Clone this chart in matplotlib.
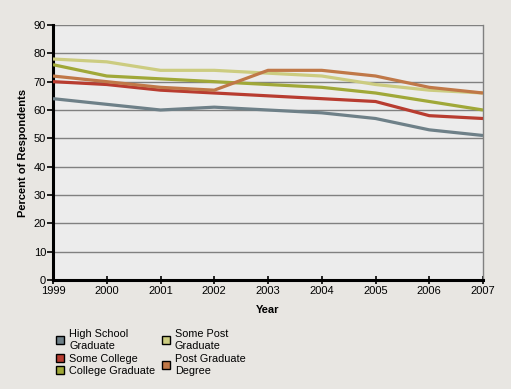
import matplotlib
matplotlib.use("Agg")
import matplotlib.pyplot as plt
from matplotlib.patches import Patch

plt.rcParams["font.family"] = ["Liberation Sans", "DejaVu Sans"]

years = [1999, 2000, 2001, 2002, 2003, 2004, 2005, 2006, 2007]
high_school = [64, 62, 60, 61, 60, 59, 57, 53, 51]
some_college = [70, 69, 67, 66, 65, 64, 63, 58, 57]
college_grad = [76, 72, 71, 70, 69, 68, 66, 63, 60]
some_post = [78, 77, 74, 74, 73, 72, 69, 67, 66]
post_grad = [72, 70, 68, 67, 74, 74, 72, 68, 66]

series = [
    ("High School\nGraduate", high_school, "#6e8088"),
    ("Some College", some_college, "#b83c30"),
    ("College Graduate", college_grad, "#a0a838"),
    ("Some Post\nGraduate", some_post, "#cccc80"),
    ("Post Graduate\nDegree", post_grad, "#c07848"),
]

fig = plt.figure(figsize=(5.11, 3.89), dpi=100, facecolor="#e8e6e2")
ax = fig.add_axes([53/511, 1-280/389, 430/511, 255/389])
ax.set_facecolor("#ececec")

for label, vals, c in series:
    ax.plot(years, vals, color=c, lw=2.3, solid_capstyle="butt", zorder=3)

ax.set_xlim(1999, 2007)
ax.set_ylim(0, 90)
ax.set_xticks(years)
ax.set_yticks(range(0, 91, 10))
ax.grid(axis="y", color="#808080", lw=1.0, zorder=1)
ax.tick_params(labelsize=8.0, length=4, width=1.2, color="black", pad=1)
ax.tick_params(axis="x", direction="inout", length=6)
for s in ["left", "bottom"]:
    ax.spines[s].set_linewidth(2.2)
    ax.spines[s].set_color("black")
ax.spines["right"].set_color("#808080")
ax.spines["right"].set_linewidth(1.0)
ax.spines["top"].set_visible(False)

ax.set_xlabel("Year", fontsize=8.0, fontweight="bold", labelpad=7)
ax.set_ylabel("Percent of Respondents", fontsize=8.0, fontweight="bold", labelpad=4)

handles = [Patch(facecolor=c, edgecolor="black", lw=1.0) for _, _, c in series]
labels = [l for l, _, _ in series]
leg = fig.legend(handles, labels, ncol=2, loc="upper left",
                 bbox_to_anchor=(56/511, 1-329/389), frameon=False,
                 fontsize=7.8, handlelength=0.75, handleheight=0.75, handletextpad=0.45,
                 columnspacing=0.6, labelspacing=0.2, borderaxespad=0, borderpad=0)
for t in leg.get_texts():
    t.set_linespacing(1.3)

fig.savefig("out.png", dpi=100, facecolor=fig.get_facecolor())
